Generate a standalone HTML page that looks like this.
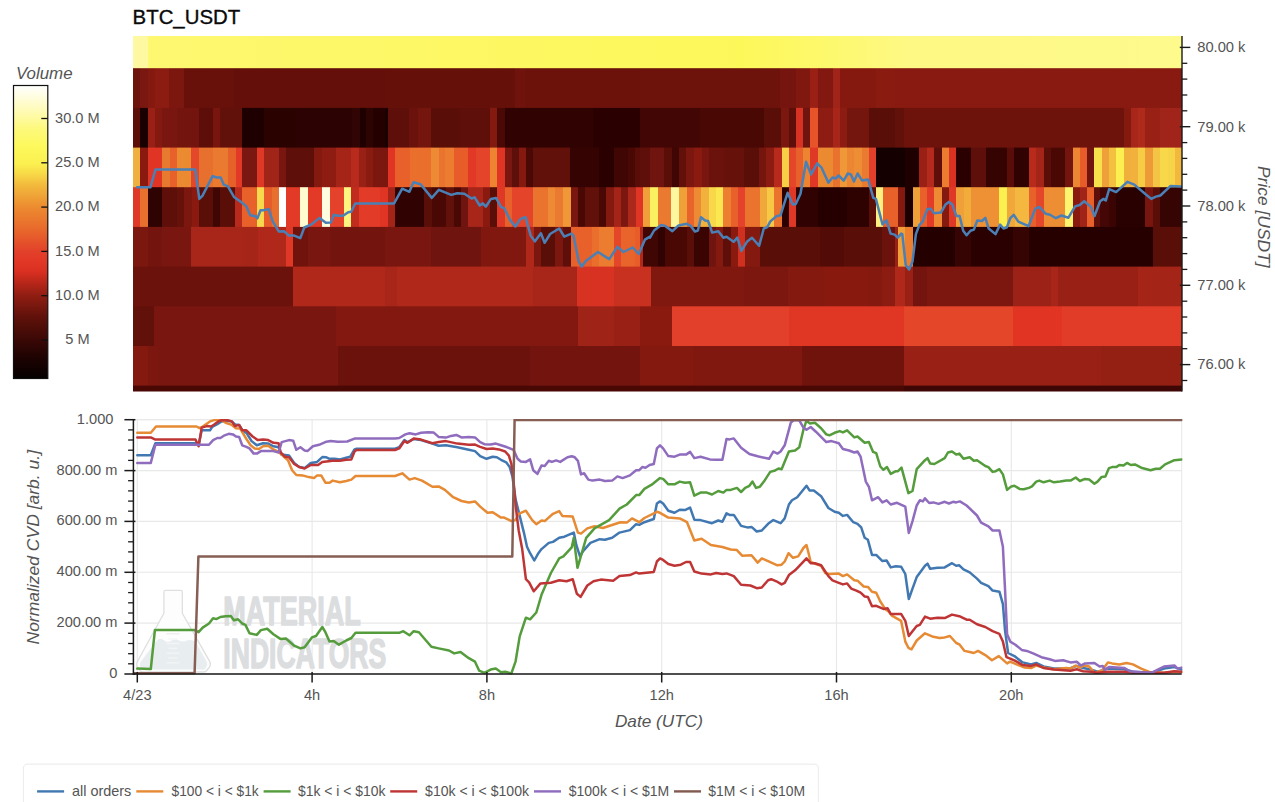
<!DOCTYPE html>
<html lang="en"><head><meta charset="utf-8"><title>BTC_USDT</title>
<style>
html,body{margin:0;padding:0;background:#fff;}
body{width:1275px;height:802px;overflow:hidden;font-family:"Liberation Sans", Arial, Helvetica, sans-serif;}
svg{display:block;}
text{font-family:"Liberation Sans", Arial, Helvetica, sans-serif;}
.t{font-size:14.6px;fill:#545454;}
.al{font-size:17px;font-style:italic;fill:#545454;}
.ln{fill:none;stroke-width:2.5;stroke-linejoin:round;stroke-linecap:round;}
</style></head><body>
<svg width="1275" height="802" viewBox="0 0 1275 802">
<defs>
<linearGradient id="cb" x1="0" y1="1" x2="0" y2="0">

<stop offset="0.0000" stop-color="#050000"/>
<stop offset="0.0721" stop-color="#1e0302"/>
<stop offset="0.1321" stop-color="#3a0805"/>
<stop offset="0.2072" stop-color="#5e110a"/>
<stop offset="0.2823" stop-color="#8f1d12"/>
<stop offset="0.3273" stop-color="#b82619"/>
<stop offset="0.3664" stop-color="#da3022"/>
<stop offset="0.4024" stop-color="#e23826"/>
<stop offset="0.4324" stop-color="#e2402a"/>
<stop offset="0.5075" stop-color="#e8682c"/>
<stop offset="0.5826" stop-color="#ec8a30"/>
<stop offset="0.6577" stop-color="#f2b83c"/>
<stop offset="0.7027" stop-color="#f8dc48"/>
<stop offset="0.7327" stop-color="#fbf050"/>
<stop offset="0.7928" stop-color="#fdf95c"/>
<stop offset="0.8529" stop-color="#fdf97c"/>
<stop offset="0.8829" stop-color="#fefa9a"/>
<stop offset="0.9429" stop-color="#fffcd0"/>
<stop offset="1.0000" stop-color="#ffffff"/>
</linearGradient>
<linearGradient id="gy" gradientUnits="userSpaceOnUse" x1="133" y1="0" x2="1182" y2="0">
<stop offset="0" stop-color="#fef9a2"/><stop offset="0.0138" stop-color="#fef9a0"/><stop offset="0.0150" stop-color="#fdf870"/>
<stop offset="0.2" stop-color="#fdf868"/><stop offset="0.45" stop-color="#fdf85e"/><stop offset="0.58" stop-color="#fdf85a"/>
<stop offset="0.66" stop-color="#fdf96c"/><stop offset="0.74" stop-color="#fef984"/><stop offset="1" stop-color="#fefa8c"/>
</linearGradient>
<clipPath id="cpb"><rect x="133.4" y="418.9" width="1049" height="256"/></clipPath>
<clipPath id="cpt"><rect x="133" y="36" width="1049" height="355.6"/></clipPath>
<filter id="bl" x="-1%" y="-3%" width="102%" height="106%" color-interpolation-filters="sRGB"><feGaussianBlur stdDeviation="0.75 0.6"/></filter>
</defs>
<rect width="1275" height="802" fill="#ffffff"/>

<text x="132.6" y="24.0" font-size="20.6" fill="#0a0a0a" stroke="#0a0a0a" stroke-width="0.35" textLength="107.6" lengthAdjust="spacingAndGlyphs">BTC_USDT</text>
<text class="al" x="16" y="79.2" textLength="56.5" lengthAdjust="spacingAndGlyphs">Volume</text>
<rect x="13.5" y="85.5" width="34.3" height="293" fill="url(#cb)" stroke="#111" stroke-width="1.2"/>
<line x1="41.3" y1="340.0" x2="47.8" y2="340.0" stroke="#111" stroke-width="1.3"/>
<text class="t" x="77.4" y="344.3" text-anchor="middle">5 M</text>
<line x1="41.3" y1="295.7" x2="47.8" y2="295.7" stroke="#111" stroke-width="1.3"/>
<text class="t" x="77.4" y="300.0" text-anchor="middle">10.0 M</text>
<line x1="41.3" y1="251.4" x2="47.8" y2="251.4" stroke="#111" stroke-width="1.3"/>
<text class="t" x="77.4" y="255.7" text-anchor="middle">15.0 M</text>
<line x1="41.3" y1="207.1" x2="47.8" y2="207.1" stroke="#111" stroke-width="1.3"/>
<text class="t" x="77.4" y="211.4" text-anchor="middle">20.0 M</text>
<line x1="41.3" y1="162.8" x2="47.8" y2="162.8" stroke="#111" stroke-width="1.3"/>
<text class="t" x="77.4" y="167.1" text-anchor="middle">25.0 M</text>
<line x1="41.3" y1="118.5" x2="47.8" y2="118.5" stroke="#111" stroke-width="1.3"/>
<text class="t" x="77.4" y="122.8" text-anchor="middle">30.0 M</text>
<g clip-path="url(#cpt)"><g id="heat" filter="url(#bl)">
<defs><linearGradient id="hr1" gradientUnits="userSpaceOnUse" x1="127.0" y1="0" x2="1188.0" y2="0"><stop offset="0.00000" stop-color="#6e120c"/><stop offset="0.01225" stop-color="#6e120c"/><stop offset="0.01225" stop-color="#7a1710"/><stop offset="0.01979" stop-color="#7a1710"/><stop offset="0.01979" stop-color="#84190f"/><stop offset="0.02639" stop-color="#84190f"/><stop offset="0.02639" stop-color="#8c1c12"/><stop offset="0.03959" stop-color="#8c1c12"/><stop offset="0.03959" stop-color="#7c1710"/><stop offset="0.05372" stop-color="#7c1710"/><stop offset="0.05372" stop-color="#68100a"/><stop offset="0.10085" stop-color="#68100a"/><stop offset="0.10085" stop-color="#640f09"/><stop offset="0.24317" stop-color="#640f09"/><stop offset="0.24317" stop-color="#66100a"/><stop offset="0.36569" stop-color="#66100a"/><stop offset="0.36569" stop-color="#70130c"/><stop offset="0.37512" stop-color="#70130c"/><stop offset="0.37512" stop-color="#6c120b"/><stop offset="0.48351" stop-color="#6c120b"/><stop offset="0.48351" stop-color="#6e120c"/><stop offset="0.61546" stop-color="#6e120c"/><stop offset="0.61546" stop-color="#761510"/><stop offset="0.63054" stop-color="#761510"/><stop offset="0.63054" stop-color="#80180f"/><stop offset="0.64373" stop-color="#80180f"/><stop offset="0.64373" stop-color="#9a2015"/><stop offset="0.65127" stop-color="#9a2015"/><stop offset="0.65127" stop-color="#82180f"/><stop offset="0.66541" stop-color="#82180f"/><stop offset="0.66541" stop-color="#a0241a"/><stop offset="0.67201" stop-color="#a0241a"/><stop offset="0.67201" stop-color="#86190f"/><stop offset="0.70594" stop-color="#86190f"/><stop offset="0.70594" stop-color="#8a1b11"/><stop offset="0.72385" stop-color="#8a1b11"/><stop offset="0.72385" stop-color="#881a11"/><stop offset="1.00000" stop-color="#881a11"/></linearGradient><linearGradient id="hr2" gradientUnits="userSpaceOnUse" x1="127.0" y1="0" x2="1188.0" y2="0"><stop offset="0.00000" stop-color="#5e0e08"/><stop offset="0.01225" stop-color="#5e0e08"/><stop offset="0.01225" stop-color="#1a0000"/><stop offset="0.01942" stop-color="#1a0000"/><stop offset="0.01942" stop-color="#9a2015"/><stop offset="0.02639" stop-color="#9a2015"/><stop offset="0.02639" stop-color="#84190f"/><stop offset="0.03299" stop-color="#84190f"/><stop offset="0.03299" stop-color="#7a1610"/><stop offset="0.04713" stop-color="#7a1610"/><stop offset="0.04713" stop-color="#74140e"/><stop offset="0.06786" stop-color="#74140e"/><stop offset="0.06786" stop-color="#5e0e08"/><stop offset="0.08106" stop-color="#5e0e08"/><stop offset="0.08106" stop-color="#78150e"/><stop offset="0.08765" stop-color="#78150e"/><stop offset="0.08765" stop-color="#62100a"/><stop offset="0.10839" stop-color="#62100a"/><stop offset="0.10839" stop-color="#1e0000"/><stop offset="0.12912" stop-color="#1e0000"/><stop offset="0.12912" stop-color="#2a0200"/><stop offset="0.15928" stop-color="#2a0200"/><stop offset="0.15928" stop-color="#2c0302"/><stop offset="0.21206" stop-color="#2c0302"/><stop offset="0.21206" stop-color="#300503"/><stop offset="0.21960" stop-color="#300503"/><stop offset="0.21960" stop-color="#1e0000"/><stop offset="0.22526" stop-color="#1e0000"/><stop offset="0.22526" stop-color="#2e0402"/><stop offset="0.23186" stop-color="#2e0402"/><stop offset="0.23186" stop-color="#240100"/><stop offset="0.24317" stop-color="#240100"/><stop offset="0.24317" stop-color="#1a0000"/><stop offset="0.24599" stop-color="#1a0000"/><stop offset="0.24599" stop-color="#5e0f09"/><stop offset="0.26579" stop-color="#5e0f09"/><stop offset="0.26579" stop-color="#6a120b"/><stop offset="0.27427" stop-color="#6a120b"/><stop offset="0.27427" stop-color="#74150e"/><stop offset="0.28652" stop-color="#74150e"/><stop offset="0.28652" stop-color="#5a0e08"/><stop offset="0.31385" stop-color="#5a0e08"/><stop offset="0.31385" stop-color="#5e0f09"/><stop offset="0.34213" stop-color="#5e0f09"/><stop offset="0.34213" stop-color="#84190f"/><stop offset="0.34873" stop-color="#84190f"/><stop offset="0.34873" stop-color="#4a0905"/><stop offset="0.35627" stop-color="#4a0905"/><stop offset="0.35627" stop-color="#300201"/><stop offset="0.43921" stop-color="#300201"/><stop offset="0.43921" stop-color="#2a0100"/><stop offset="0.48351" stop-color="#2a0100"/><stop offset="0.48351" stop-color="#420704"/><stop offset="0.54006" stop-color="#420704"/><stop offset="0.54006" stop-color="#4a0805"/><stop offset="0.60038" stop-color="#4a0805"/><stop offset="0.60038" stop-color="#5a0e08"/><stop offset="0.61640" stop-color="#5a0e08"/><stop offset="0.61640" stop-color="#7c1710"/><stop offset="0.62394" stop-color="#7c1710"/><stop offset="0.62394" stop-color="#5e0f09"/><stop offset="0.63054" stop-color="#5e0f09"/><stop offset="0.63054" stop-color="#d83222"/><stop offset="0.63713" stop-color="#d83222"/><stop offset="0.63713" stop-color="#701410"/><stop offset="0.64373" stop-color="#701410"/><stop offset="0.64373" stop-color="#e8542a"/><stop offset="0.65127" stop-color="#e8542a"/><stop offset="0.65127" stop-color="#8e1c12"/><stop offset="0.66541" stop-color="#8e1c12"/><stop offset="0.66541" stop-color="#a82619"/><stop offset="0.67201" stop-color="#a82619"/><stop offset="0.67201" stop-color="#8c1b11"/><stop offset="0.67861" stop-color="#8c1b11"/><stop offset="0.67861" stop-color="#74150e"/><stop offset="0.69934" stop-color="#74150e"/><stop offset="0.69934" stop-color="#5a0e08"/><stop offset="0.72385" stop-color="#5a0e08"/><stop offset="0.72385" stop-color="#62100a"/><stop offset="0.73233" stop-color="#62100a"/><stop offset="0.73233" stop-color="#6e130c"/><stop offset="0.91706" stop-color="#6e130c"/><stop offset="0.91706" stop-color="#6e130c"/><stop offset="0.93968" stop-color="#6e130c"/><stop offset="0.93968" stop-color="#84190f"/><stop offset="0.94622" stop-color="#84190f"/><stop offset="0.94622" stop-color="#a82619"/><stop offset="0.95280" stop-color="#a82619"/><stop offset="0.95280" stop-color="#b02a1c"/><stop offset="0.95939" stop-color="#b02a1c"/><stop offset="0.95939" stop-color="#982014"/><stop offset="0.97350" stop-color="#982014"/><stop offset="0.97350" stop-color="#a0241a"/><stop offset="1.00000" stop-color="#a0241a"/></linearGradient><linearGradient id="hr3" gradientUnits="userSpaceOnUse" x1="127.0" y1="0" x2="1188.0" y2="0"><stop offset="0.00000" stop-color="#f0b040"/><stop offset="0.01225" stop-color="#f0b040"/><stop offset="0.01225" stop-color="#8a1a10"/><stop offset="0.01979" stop-color="#8a1a10"/><stop offset="0.01979" stop-color="#e03424"/><stop offset="0.03299" stop-color="#e03424"/><stop offset="0.03299" stop-color="#e87a30"/><stop offset="0.04053" stop-color="#e87a30"/><stop offset="0.04053" stop-color="#e8602a"/><stop offset="0.04713" stop-color="#e8602a"/><stop offset="0.04713" stop-color="#ec8a32"/><stop offset="0.06032" stop-color="#ec8a32"/><stop offset="0.06032" stop-color="#e4482a"/><stop offset="0.06786" stop-color="#e4482a"/><stop offset="0.06786" stop-color="#e8702e"/><stop offset="0.08106" stop-color="#e8702e"/><stop offset="0.08106" stop-color="#ea7a30"/><stop offset="0.09519" stop-color="#ea7a30"/><stop offset="0.09519" stop-color="#e6602a"/><stop offset="0.10273" stop-color="#e6602a"/><stop offset="0.10273" stop-color="#e23a26"/><stop offset="0.10839" stop-color="#e23a26"/><stop offset="0.10839" stop-color="#7a1710"/><stop offset="0.12253" stop-color="#7a1710"/><stop offset="0.12253" stop-color="#e03826"/><stop offset="0.12950" stop-color="#e03826"/><stop offset="0.12950" stop-color="#a02418"/><stop offset="0.14326" stop-color="#a02418"/><stop offset="0.14326" stop-color="#7a1610"/><stop offset="0.14986" stop-color="#7a1610"/><stop offset="0.14986" stop-color="#5e0f09"/><stop offset="0.17625" stop-color="#5e0f09"/><stop offset="0.17625" stop-color="#84190f"/><stop offset="0.18379" stop-color="#84190f"/><stop offset="0.18379" stop-color="#8e1c12"/><stop offset="0.19698" stop-color="#8e1c12"/><stop offset="0.19698" stop-color="#a42418"/><stop offset="0.21112" stop-color="#a42418"/><stop offset="0.21112" stop-color="#b82a1c"/><stop offset="0.21866" stop-color="#b82a1c"/><stop offset="0.21866" stop-color="#982014"/><stop offset="0.22526" stop-color="#982014"/><stop offset="0.22526" stop-color="#8a1b11"/><stop offset="0.23186" stop-color="#8a1b11"/><stop offset="0.23186" stop-color="#7c1710"/><stop offset="0.24317" stop-color="#7c1710"/><stop offset="0.24317" stop-color="#7c1710"/><stop offset="0.24599" stop-color="#7c1710"/><stop offset="0.24599" stop-color="#e03424"/><stop offset="0.25259" stop-color="#e03424"/><stop offset="0.25259" stop-color="#e8602a"/><stop offset="0.26673" stop-color="#e8602a"/><stop offset="0.26673" stop-color="#ea6e2c"/><stop offset="0.28652" stop-color="#ea6e2c"/><stop offset="0.28652" stop-color="#ee8a34"/><stop offset="0.29406" stop-color="#ee8a34"/><stop offset="0.29406" stop-color="#ea742e"/><stop offset="0.29972" stop-color="#ea742e"/><stop offset="0.29972" stop-color="#ec7c30"/><stop offset="0.30820" stop-color="#ec7c30"/><stop offset="0.30820" stop-color="#e85c2a"/><stop offset="0.32139" stop-color="#e85c2a"/><stop offset="0.32139" stop-color="#e23826"/><stop offset="0.32893" stop-color="#e23826"/><stop offset="0.32893" stop-color="#e4442a"/><stop offset="0.34213" stop-color="#e4442a"/><stop offset="0.34213" stop-color="#ec8432"/><stop offset="0.34873" stop-color="#ec8432"/><stop offset="0.34873" stop-color="#e03424"/><stop offset="0.35589" stop-color="#e03424"/><stop offset="0.35589" stop-color="#7a1610"/><stop offset="0.36287" stop-color="#7a1610"/><stop offset="0.36287" stop-color="#5e0f09"/><stop offset="0.36946" stop-color="#5e0f09"/><stop offset="0.36946" stop-color="#84190f"/><stop offset="0.37606" stop-color="#84190f"/><stop offset="0.37606" stop-color="#4a0905"/><stop offset="0.38266" stop-color="#4a0905"/><stop offset="0.38266" stop-color="#62100a"/><stop offset="0.41753" stop-color="#62100a"/><stop offset="0.41753" stop-color="#340302"/><stop offset="0.44486" stop-color="#340302"/><stop offset="0.44486" stop-color="#2a0100"/><stop offset="0.45900" stop-color="#2a0100"/><stop offset="0.45900" stop-color="#400604"/><stop offset="0.47220" stop-color="#400604"/><stop offset="0.47220" stop-color="#4a0805"/><stop offset="0.47879" stop-color="#4a0805"/><stop offset="0.47879" stop-color="#5a0d08"/><stop offset="0.48351" stop-color="#5a0d08"/><stop offset="0.48351" stop-color="#5e0f09"/><stop offset="0.49293" stop-color="#5e0f09"/><stop offset="0.49293" stop-color="#701410"/><stop offset="0.50613" stop-color="#701410"/><stop offset="0.50613" stop-color="#5a0e08"/><stop offset="0.51367" stop-color="#5a0e08"/><stop offset="0.51367" stop-color="#400604"/><stop offset="0.52026" stop-color="#400604"/><stop offset="0.52026" stop-color="#62100a"/><stop offset="0.52686" stop-color="#62100a"/><stop offset="0.52686" stop-color="#7c1710"/><stop offset="0.53440" stop-color="#7c1710"/><stop offset="0.53440" stop-color="#8a1a10"/><stop offset="0.54194" stop-color="#8a1a10"/><stop offset="0.54194" stop-color="#7a1610"/><stop offset="0.54854" stop-color="#7a1610"/><stop offset="0.54854" stop-color="#6a120b"/><stop offset="0.56268" stop-color="#6a120b"/><stop offset="0.56268" stop-color="#66110a"/><stop offset="0.58153" stop-color="#66110a"/><stop offset="0.58153" stop-color="#5a0e08"/><stop offset="0.59566" stop-color="#5a0e08"/><stop offset="0.59566" stop-color="#74150e"/><stop offset="0.60226" stop-color="#74150e"/><stop offset="0.60226" stop-color="#8c1b11"/><stop offset="0.60980" stop-color="#8c1b11"/><stop offset="0.60980" stop-color="#b82a1c"/><stop offset="0.61697" stop-color="#b82a1c"/><stop offset="0.61697" stop-color="#f8d048"/><stop offset="0.62394" stop-color="#f8d048"/><stop offset="0.62394" stop-color="#e4462a"/><stop offset="0.63054" stop-color="#e4462a"/><stop offset="0.63054" stop-color="#e8602a"/><stop offset="0.63713" stop-color="#e8602a"/><stop offset="0.63713" stop-color="#ec8432"/><stop offset="0.64373" stop-color="#ec8432"/><stop offset="0.64373" stop-color="#e03826"/><stop offset="0.65127" stop-color="#e03826"/><stop offset="0.65127" stop-color="#ec8a32"/><stop offset="0.66541" stop-color="#ec8a32"/><stop offset="0.66541" stop-color="#e8722e"/><stop offset="0.67201" stop-color="#e8722e"/><stop offset="0.67201" stop-color="#f09838"/><stop offset="0.67861" stop-color="#f09838"/><stop offset="0.67861" stop-color="#ec8632"/><stop offset="0.68520" stop-color="#ec8632"/><stop offset="0.68520" stop-color="#ee8e34"/><stop offset="0.69274" stop-color="#ee8e34"/><stop offset="0.69274" stop-color="#ea7a30"/><stop offset="0.69934" stop-color="#ea7a30"/><stop offset="0.69934" stop-color="#e2402a"/><stop offset="0.70594" stop-color="#e2402a"/><stop offset="0.70594" stop-color="#140000"/><stop offset="0.72385" stop-color="#140000"/><stop offset="0.72385" stop-color="#140000"/><stop offset="0.73327" stop-color="#140000"/><stop offset="0.73327" stop-color="#1e0000"/><stop offset="0.74647" stop-color="#1e0000"/><stop offset="0.74647" stop-color="#9a2015"/><stop offset="0.75401" stop-color="#9a2015"/><stop offset="0.75401" stop-color="#b42a1c"/><stop offset="0.76060" stop-color="#b42a1c"/><stop offset="0.76060" stop-color="#5e0f09"/><stop offset="0.76814" stop-color="#5e0f09"/><stop offset="0.76814" stop-color="#ec7c30"/><stop offset="0.77474" stop-color="#ec7c30"/><stop offset="0.77474" stop-color="#d83222"/><stop offset="0.78134" stop-color="#d83222"/><stop offset="0.78134" stop-color="#2a0100"/><stop offset="0.79548" stop-color="#2a0100"/><stop offset="0.79548" stop-color="#5e0f09"/><stop offset="0.80961" stop-color="#5e0f09"/><stop offset="0.80961" stop-color="#340302"/><stop offset="0.82941" stop-color="#340302"/><stop offset="0.82941" stop-color="#5a0d08"/><stop offset="0.83600" stop-color="#5a0d08"/><stop offset="0.83600" stop-color="#300201"/><stop offset="0.84976" stop-color="#300201"/><stop offset="0.84976" stop-color="#b82a1c"/><stop offset="0.85674" stop-color="#b82a1c"/><stop offset="0.85674" stop-color="#a42418"/><stop offset="0.86428" stop-color="#a42418"/><stop offset="0.86428" stop-color="#5a0e08"/><stop offset="0.87088" stop-color="#5a0e08"/><stop offset="0.87088" stop-color="#4a0805"/><stop offset="0.88407" stop-color="#4a0805"/><stop offset="0.88407" stop-color="#74140e"/><stop offset="0.89161" stop-color="#74140e"/><stop offset="0.89161" stop-color="#ec8632"/><stop offset="0.89821" stop-color="#ec8632"/><stop offset="0.89821" stop-color="#e85c2a"/><stop offset="0.90481" stop-color="#e85c2a"/><stop offset="0.90481" stop-color="#701410"/><stop offset="0.91159" stop-color="#701410"/><stop offset="0.91159" stop-color="#f8e04c"/><stop offset="0.91924" stop-color="#f8e04c"/><stop offset="0.91924" stop-color="#f0a038"/><stop offset="0.92549" stop-color="#f0a038"/><stop offset="0.92549" stop-color="#f4c040"/><stop offset="0.93202" stop-color="#f4c040"/><stop offset="0.93202" stop-color="#fbf050"/><stop offset="0.93990" stop-color="#fbf050"/><stop offset="0.93990" stop-color="#f0b03c"/><stop offset="0.94663" stop-color="#f0b03c"/><stop offset="0.94663" stop-color="#f2b03c"/><stop offset="0.95287" stop-color="#f2b03c"/><stop offset="0.95287" stop-color="#f6cc44"/><stop offset="0.95960" stop-color="#f6cc44"/><stop offset="0.95960" stop-color="#ee9a36"/><stop offset="0.96681" stop-color="#ee9a36"/><stop offset="0.96681" stop-color="#f4c444"/><stop offset="0.97401" stop-color="#f4c444"/><stop offset="0.97401" stop-color="#f8d848"/><stop offset="0.98122" stop-color="#f8d848"/><stop offset="0.98122" stop-color="#f6d447"/><stop offset="0.98795" stop-color="#f6d447"/><stop offset="0.98795" stop-color="#f2b83e"/><stop offset="1.00000" stop-color="#f2b83e"/></linearGradient><linearGradient id="hr4" gradientUnits="userSpaceOnUse" x1="127.0" y1="0" x2="1188.0" y2="0"><stop offset="0.00000" stop-color="#e03826"/><stop offset="0.01225" stop-color="#e03826"/><stop offset="0.01225" stop-color="#e8702e"/><stop offset="0.01979" stop-color="#e8702e"/><stop offset="0.01979" stop-color="#2e0302"/><stop offset="0.03299" stop-color="#2e0302"/><stop offset="0.03299" stop-color="#5e0f09"/><stop offset="0.04713" stop-color="#5e0f09"/><stop offset="0.04713" stop-color="#66110a"/><stop offset="0.05372" stop-color="#66110a"/><stop offset="0.05372" stop-color="#7c1710"/><stop offset="0.06126" stop-color="#7c1710"/><stop offset="0.06126" stop-color="#8a1a10"/><stop offset="0.06786" stop-color="#8a1a10"/><stop offset="0.06786" stop-color="#5a0e08"/><stop offset="0.08106" stop-color="#5a0e08"/><stop offset="0.08106" stop-color="#400604"/><stop offset="0.08765" stop-color="#400604"/><stop offset="0.08765" stop-color="#5a0e08"/><stop offset="0.10179" stop-color="#5a0e08"/><stop offset="0.10179" stop-color="#b82a1c"/><stop offset="0.10839" stop-color="#b82a1c"/><stop offset="0.10839" stop-color="#e8602a"/><stop offset="0.12253" stop-color="#e8602a"/><stop offset="0.12253" stop-color="#f8d84c"/><stop offset="0.12912" stop-color="#f8d84c"/><stop offset="0.12912" stop-color="#e85c2a"/><stop offset="0.13666" stop-color="#e85c2a"/><stop offset="0.13666" stop-color="#e8702e"/><stop offset="0.14326" stop-color="#e8702e"/><stop offset="0.14326" stop-color="#ffffff"/><stop offset="0.14986" stop-color="#ffffff"/><stop offset="0.14986" stop-color="#e23a26"/><stop offset="0.16305" stop-color="#e23a26"/><stop offset="0.16305" stop-color="#fffcd0"/><stop offset="0.17059" stop-color="#fffcd0"/><stop offset="0.17059" stop-color="#e23a26"/><stop offset="0.18379" stop-color="#e23a26"/><stop offset="0.18379" stop-color="#fffde0"/><stop offset="0.19133" stop-color="#fffde0"/><stop offset="0.19133" stop-color="#e4422a"/><stop offset="0.20452" stop-color="#e4422a"/><stop offset="0.20452" stop-color="#fdf580"/><stop offset="0.21112" stop-color="#fdf580"/><stop offset="0.21112" stop-color="#c02c1e"/><stop offset="0.21866" stop-color="#c02c1e"/><stop offset="0.21866" stop-color="#e23c28"/><stop offset="0.23845" stop-color="#e23c28"/><stop offset="0.23845" stop-color="#e03424"/><stop offset="0.24317" stop-color="#e03424"/><stop offset="0.24317" stop-color="#e03424"/><stop offset="0.24599" stop-color="#e03424"/><stop offset="0.24599" stop-color="#a42418"/><stop offset="0.25259" stop-color="#a42418"/><stop offset="0.25259" stop-color="#300201"/><stop offset="0.27992" stop-color="#300201"/><stop offset="0.27992" stop-color="#5a0e08"/><stop offset="0.28746" stop-color="#5a0e08"/><stop offset="0.28746" stop-color="#4a0805"/><stop offset="0.30066" stop-color="#4a0805"/><stop offset="0.30066" stop-color="#62100a"/><stop offset="0.30820" stop-color="#62100a"/><stop offset="0.30820" stop-color="#4a0805"/><stop offset="0.31480" stop-color="#4a0805"/><stop offset="0.31480" stop-color="#701410"/><stop offset="0.32139" stop-color="#701410"/><stop offset="0.32139" stop-color="#a82619"/><stop offset="0.33553" stop-color="#a82619"/><stop offset="0.33553" stop-color="#8a1a10"/><stop offset="0.34213" stop-color="#8a1a10"/><stop offset="0.34213" stop-color="#5a0e08"/><stop offset="0.34873" stop-color="#5a0e08"/><stop offset="0.34873" stop-color="#e03826"/><stop offset="0.35589" stop-color="#e03826"/><stop offset="0.35589" stop-color="#e8602a"/><stop offset="0.36287" stop-color="#e8602a"/><stop offset="0.36287" stop-color="#e4442a"/><stop offset="0.38266" stop-color="#e4442a"/><stop offset="0.38266" stop-color="#ea742e"/><stop offset="0.39680" stop-color="#ea742e"/><stop offset="0.39680" stop-color="#ee8a34"/><stop offset="0.40339" stop-color="#ee8a34"/><stop offset="0.40339" stop-color="#ea7a30"/><stop offset="0.41093" stop-color="#ea7a30"/><stop offset="0.41093" stop-color="#f09838"/><stop offset="0.41810" stop-color="#f09838"/><stop offset="0.41810" stop-color="#7a1610"/><stop offset="0.42507" stop-color="#7a1610"/><stop offset="0.42507" stop-color="#4a0805"/><stop offset="0.43167" stop-color="#4a0805"/><stop offset="0.43167" stop-color="#62100a"/><stop offset="0.44486" stop-color="#62100a"/><stop offset="0.44486" stop-color="#4a0805"/><stop offset="0.45146" stop-color="#4a0805"/><stop offset="0.45146" stop-color="#84190f"/><stop offset="0.45900" stop-color="#84190f"/><stop offset="0.45900" stop-color="#a42418"/><stop offset="0.46560" stop-color="#a42418"/><stop offset="0.46560" stop-color="#7c1710"/><stop offset="0.47220" stop-color="#7c1710"/><stop offset="0.47220" stop-color="#ac281a"/><stop offset="0.47974" stop-color="#ac281a"/><stop offset="0.47974" stop-color="#e03424"/><stop offset="0.48351" stop-color="#e03424"/><stop offset="0.48351" stop-color="#e03424"/><stop offset="0.48633" stop-color="#e03424"/><stop offset="0.48633" stop-color="#f0a038"/><stop offset="0.49293" stop-color="#f0a038"/><stop offset="0.49293" stop-color="#fbf060"/><stop offset="0.50047" stop-color="#fbf060"/><stop offset="0.50047" stop-color="#ea7a30"/><stop offset="0.51272" stop-color="#ea7a30"/><stop offset="0.51272" stop-color="#fdf8a0"/><stop offset="0.52026" stop-color="#fdf8a0"/><stop offset="0.52026" stop-color="#f0a038"/><stop offset="0.52780" stop-color="#f0a038"/><stop offset="0.52780" stop-color="#e8642a"/><stop offset="0.53440" stop-color="#e8642a"/><stop offset="0.53440" stop-color="#ee8a34"/><stop offset="0.54100" stop-color="#ee8a34"/><stop offset="0.54100" stop-color="#f2b03c"/><stop offset="0.54854" stop-color="#f2b03c"/><stop offset="0.54854" stop-color="#f8d848"/><stop offset="0.55514" stop-color="#f8d848"/><stop offset="0.55514" stop-color="#fbe850"/><stop offset="0.56173" stop-color="#fbe850"/><stop offset="0.56173" stop-color="#ec8030"/><stop offset="0.56927" stop-color="#ec8030"/><stop offset="0.56927" stop-color="#e8602a"/><stop offset="0.57587" stop-color="#e8602a"/><stop offset="0.57587" stop-color="#e4422a"/><stop offset="0.58247" stop-color="#e4422a"/><stop offset="0.58247" stop-color="#ea742e"/><stop offset="0.59623" stop-color="#ea742e"/><stop offset="0.59623" stop-color="#f0a83a"/><stop offset="0.60320" stop-color="#f0a83a"/><stop offset="0.60320" stop-color="#f6c844"/><stop offset="0.60980" stop-color="#f6c844"/><stop offset="0.60980" stop-color="#ea742e"/><stop offset="0.61697" stop-color="#ea742e"/><stop offset="0.61697" stop-color="#2a0100"/><stop offset="0.62394" stop-color="#2a0100"/><stop offset="0.62394" stop-color="#e03826"/><stop offset="0.63054" stop-color="#e03826"/><stop offset="0.63054" stop-color="#300201"/><stop offset="0.65127" stop-color="#300201"/><stop offset="0.65127" stop-color="#260000"/><stop offset="0.67861" stop-color="#260000"/><stop offset="0.67861" stop-color="#2e0201"/><stop offset="0.69934" stop-color="#2e0201"/><stop offset="0.69934" stop-color="#5a0e08"/><stop offset="0.70594" stop-color="#5a0e08"/><stop offset="0.70594" stop-color="#fdf080"/><stop offset="0.71254" stop-color="#fdf080"/><stop offset="0.71254" stop-color="#e8602a"/><stop offset="0.72385" stop-color="#e8602a"/><stop offset="0.72385" stop-color="#e8602a"/><stop offset="0.72667" stop-color="#e8602a"/><stop offset="0.72667" stop-color="#84190f"/><stop offset="0.73327" stop-color="#84190f"/><stop offset="0.73327" stop-color="#1a0000"/><stop offset="0.74081" stop-color="#1a0000"/><stop offset="0.74081" stop-color="#f0a038"/><stop offset="0.74741" stop-color="#f0a038"/><stop offset="0.74741" stop-color="#e8602a"/><stop offset="0.75401" stop-color="#e8602a"/><stop offset="0.75401" stop-color="#e23c28"/><stop offset="0.76060" stop-color="#e23c28"/><stop offset="0.76060" stop-color="#ee8a34"/><stop offset="0.76814" stop-color="#ee8a34"/><stop offset="0.76814" stop-color="#84190f"/><stop offset="0.77474" stop-color="#84190f"/><stop offset="0.77474" stop-color="#e03826"/><stop offset="0.78134" stop-color="#e03826"/><stop offset="0.78134" stop-color="#f0a038"/><stop offset="0.78888" stop-color="#f0a038"/><stop offset="0.78888" stop-color="#f2ac3a"/><stop offset="0.79548" stop-color="#f2ac3a"/><stop offset="0.79548" stop-color="#ee9034"/><stop offset="0.82187" stop-color="#ee9034"/><stop offset="0.82187" stop-color="#fbf050"/><stop offset="0.82941" stop-color="#fbf050"/><stop offset="0.82941" stop-color="#f0a83a"/><stop offset="0.83657" stop-color="#f0a83a"/><stop offset="0.83657" stop-color="#f4b840"/><stop offset="0.84976" stop-color="#f4b840"/><stop offset="0.84976" stop-color="#e8602a"/><stop offset="0.85674" stop-color="#e8602a"/><stop offset="0.85674" stop-color="#e4462a"/><stop offset="0.86428" stop-color="#e4462a"/><stop offset="0.86428" stop-color="#ee8e34"/><stop offset="0.88407" stop-color="#ee8e34"/><stop offset="0.88407" stop-color="#fdf470"/><stop offset="0.89161" stop-color="#fdf470"/><stop offset="0.89161" stop-color="#8a1a10"/><stop offset="0.89821" stop-color="#8a1a10"/><stop offset="0.89821" stop-color="#a02418"/><stop offset="0.90481" stop-color="#a02418"/><stop offset="0.90481" stop-color="#e8602a"/><stop offset="0.91140" stop-color="#e8602a"/><stop offset="0.91140" stop-color="#5e0f09"/><stop offset="0.91706" stop-color="#5e0f09"/><stop offset="0.91706" stop-color="#440705"/><stop offset="0.92553" stop-color="#440705"/><stop offset="0.92553" stop-color="#3a0403"/><stop offset="0.93211" stop-color="#3a0403"/><stop offset="0.93211" stop-color="#280100"/><stop offset="0.95939" stop-color="#280100"/><stop offset="0.95939" stop-color="#78150e"/><stop offset="0.96691" stop-color="#78150e"/><stop offset="0.96691" stop-color="#5a0e08"/><stop offset="0.97350" stop-color="#5a0e08"/><stop offset="0.97350" stop-color="#360403"/><stop offset="1.00000" stop-color="#360403"/></linearGradient><linearGradient id="hr5" gradientUnits="userSpaceOnUse" x1="127.0" y1="0" x2="1188.0" y2="0"><stop offset="0.00000" stop-color="#7c1710"/><stop offset="0.01979" stop-color="#7c1710"/><stop offset="0.01979" stop-color="#74140e"/><stop offset="0.03299" stop-color="#74140e"/><stop offset="0.03299" stop-color="#78160f"/><stop offset="0.06032" stop-color="#78160f"/><stop offset="0.06032" stop-color="#a82619"/><stop offset="0.10839" stop-color="#a82619"/><stop offset="0.10839" stop-color="#a62519"/><stop offset="0.12347" stop-color="#a62519"/><stop offset="0.12347" stop-color="#b0281a"/><stop offset="0.14986" stop-color="#b0281a"/><stop offset="0.14986" stop-color="#e03826"/><stop offset="0.15646" stop-color="#e03826"/><stop offset="0.15646" stop-color="#70130d"/><stop offset="0.17059" stop-color="#70130d"/><stop offset="0.17059" stop-color="#78160f"/><stop offset="0.19133" stop-color="#78160f"/><stop offset="0.19133" stop-color="#74140e"/><stop offset="0.24317" stop-color="#74140e"/><stop offset="0.24317" stop-color="#78160f"/><stop offset="0.28652" stop-color="#78160f"/><stop offset="0.28652" stop-color="#701410"/><stop offset="0.33365" stop-color="#701410"/><stop offset="0.33365" stop-color="#80180f"/><stop offset="0.37606" stop-color="#80180f"/><stop offset="0.37606" stop-color="#b0281a"/><stop offset="0.38360" stop-color="#b0281a"/><stop offset="0.38360" stop-color="#7c1710"/><stop offset="0.39020" stop-color="#7c1710"/><stop offset="0.39020" stop-color="#5a0e08"/><stop offset="0.40339" stop-color="#5a0e08"/><stop offset="0.40339" stop-color="#7c1710"/><stop offset="0.41093" stop-color="#7c1710"/><stop offset="0.41093" stop-color="#5e0f09"/><stop offset="0.41810" stop-color="#5e0f09"/><stop offset="0.41810" stop-color="#e8602a"/><stop offset="0.43827" stop-color="#e8602a"/><stop offset="0.43827" stop-color="#ea6e2c"/><stop offset="0.44486" stop-color="#ea6e2c"/><stop offset="0.44486" stop-color="#ec7c30"/><stop offset="0.45900" stop-color="#ec7c30"/><stop offset="0.45900" stop-color="#e4462a"/><stop offset="0.46560" stop-color="#e4462a"/><stop offset="0.46560" stop-color="#e8642a"/><stop offset="0.47879" stop-color="#e8642a"/><stop offset="0.47879" stop-color="#e85c2a"/><stop offset="0.48351" stop-color="#e85c2a"/><stop offset="0.48351" stop-color="#b0281a"/><stop offset="0.48633" stop-color="#b0281a"/><stop offset="0.48633" stop-color="#400604"/><stop offset="0.50047" stop-color="#400604"/><stop offset="0.50047" stop-color="#300201"/><stop offset="0.50707" stop-color="#300201"/><stop offset="0.50707" stop-color="#4a0805"/><stop offset="0.52780" stop-color="#4a0805"/><stop offset="0.52780" stop-color="#5a0e08"/><stop offset="0.53440" stop-color="#5a0e08"/><stop offset="0.53440" stop-color="#3a0403"/><stop offset="0.54854" stop-color="#3a0403"/><stop offset="0.54854" stop-color="#701410"/><stop offset="0.55514" stop-color="#701410"/><stop offset="0.55514" stop-color="#84190f"/><stop offset="0.56173" stop-color="#84190f"/><stop offset="0.56173" stop-color="#5e0f09"/><stop offset="0.56927" stop-color="#5e0f09"/><stop offset="0.56927" stop-color="#8a1a10"/><stop offset="0.57587" stop-color="#8a1a10"/><stop offset="0.57587" stop-color="#d03020"/><stop offset="0.58247" stop-color="#d03020"/><stop offset="0.58247" stop-color="#84190f"/><stop offset="0.59623" stop-color="#84190f"/><stop offset="0.59623" stop-color="#5a0e08"/><stop offset="0.65316" stop-color="#5a0e08"/><stop offset="0.65316" stop-color="#520b06"/><stop offset="0.67578" stop-color="#520b06"/><stop offset="0.67578" stop-color="#5a0e08"/><stop offset="0.71159" stop-color="#5a0e08"/><stop offset="0.71159" stop-color="#6a120b"/><stop offset="0.72385" stop-color="#6a120b"/><stop offset="0.72385" stop-color="#982014"/><stop offset="0.72667" stop-color="#982014"/><stop offset="0.72667" stop-color="#f0a038"/><stop offset="0.73327" stop-color="#f0a038"/><stop offset="0.73327" stop-color="#ec8030"/><stop offset="0.74081" stop-color="#ec8030"/><stop offset="0.74081" stop-color="#240000"/><stop offset="0.78040" stop-color="#240000"/><stop offset="0.78040" stop-color="#360403"/><stop offset="0.79548" stop-color="#360403"/><stop offset="0.79548" stop-color="#2a0100"/><stop offset="0.83506" stop-color="#2a0100"/><stop offset="0.83506" stop-color="#360403"/><stop offset="0.85014" stop-color="#360403"/><stop offset="0.85014" stop-color="#260000"/><stop offset="0.96701" stop-color="#260000"/><stop offset="0.96701" stop-color="#5a0e08"/><stop offset="1.00000" stop-color="#5a0e08"/></linearGradient><linearGradient id="hr6" gradientUnits="userSpaceOnUse" x1="127.0" y1="0" x2="1188.0" y2="0"><stop offset="0.00000" stop-color="#6a120b"/><stop offset="0.15646" stop-color="#6a120b"/><stop offset="0.15646" stop-color="#b0281a"/><stop offset="0.24317" stop-color="#b0281a"/><stop offset="0.24317" stop-color="#a82619"/><stop offset="0.25448" stop-color="#a82619"/><stop offset="0.25448" stop-color="#b0281a"/><stop offset="0.38266" stop-color="#b0281a"/><stop offset="0.38266" stop-color="#a82619"/><stop offset="0.42413" stop-color="#a82619"/><stop offset="0.42413" stop-color="#d83222"/><stop offset="0.45900" stop-color="#d83222"/><stop offset="0.45900" stop-color="#c83020"/><stop offset="0.48351" stop-color="#c83020"/><stop offset="0.48351" stop-color="#c83020"/><stop offset="0.49387" stop-color="#c83020"/><stop offset="0.49387" stop-color="#80180f"/><stop offset="0.58153" stop-color="#80180f"/><stop offset="0.58153" stop-color="#7c1710"/><stop offset="0.62300" stop-color="#7c1710"/><stop offset="0.62300" stop-color="#84190f"/><stop offset="0.65693" stop-color="#84190f"/><stop offset="0.65693" stop-color="#88190f"/><stop offset="0.69840" stop-color="#88190f"/><stop offset="0.69840" stop-color="#84190f"/><stop offset="0.71159" stop-color="#84190f"/><stop offset="0.71159" stop-color="#8c1b11"/><stop offset="0.72385" stop-color="#8c1b11"/><stop offset="0.72385" stop-color="#b0281a"/><stop offset="0.73327" stop-color="#b0281a"/><stop offset="0.73327" stop-color="#982014"/><stop offset="0.74081" stop-color="#982014"/><stop offset="0.74081" stop-color="#74140e"/><stop offset="0.75401" stop-color="#74140e"/><stop offset="0.75401" stop-color="#7c1710"/><stop offset="0.83506" stop-color="#7c1710"/><stop offset="0.83506" stop-color="#9c2116"/><stop offset="0.87088" stop-color="#9c2116"/><stop offset="0.87088" stop-color="#a82619"/><stop offset="0.87747" stop-color="#a82619"/><stop offset="0.87747" stop-color="#982014"/><stop offset="0.95287" stop-color="#982014"/><stop offset="0.95287" stop-color="#a42418"/><stop offset="1.00000" stop-color="#a42418"/></linearGradient><linearGradient id="hr7" gradientUnits="userSpaceOnUse" x1="127.0" y1="0" x2="1188.0" y2="0"><stop offset="0.00000" stop-color="#62100a"/><stop offset="0.02545" stop-color="#62100a"/><stop offset="0.02545" stop-color="#7a1610"/><stop offset="0.19698" stop-color="#7a1610"/><stop offset="0.19698" stop-color="#82180f"/><stop offset="0.42507" stop-color="#82180f"/><stop offset="0.42507" stop-color="#a02318"/><stop offset="0.45900" stop-color="#a02318"/><stop offset="0.45900" stop-color="#982014"/><stop offset="0.48351" stop-color="#982014"/><stop offset="0.48351" stop-color="#8a1a10"/><stop offset="0.51331" stop-color="#8a1a10"/><stop offset="0.51331" stop-color="#e2402a"/><stop offset="0.62424" stop-color="#e2402a"/><stop offset="0.62424" stop-color="#e03624"/><stop offset="0.73186" stop-color="#e03624"/><stop offset="0.73186" stop-color="#e4462a"/><stop offset="0.83534" stop-color="#e4462a"/><stop offset="0.83534" stop-color="#e23422"/><stop offset="0.88087" stop-color="#e23422"/><stop offset="0.88087" stop-color="#e03c28"/><stop offset="1.00000" stop-color="#e03c28"/></linearGradient><linearGradient id="hr8" gradientUnits="userSpaceOnUse" x1="127.0" y1="0" x2="1188.0" y2="0"><stop offset="0.00000" stop-color="#84190f"/><stop offset="0.01979" stop-color="#84190f"/><stop offset="0.01979" stop-color="#7c1710"/><stop offset="0.02922" stop-color="#7c1710"/><stop offset="0.02922" stop-color="#7a1610"/><stop offset="0.19887" stop-color="#7a1610"/><stop offset="0.19887" stop-color="#6a120b"/><stop offset="0.37983" stop-color="#6a120b"/><stop offset="0.37983" stop-color="#74140e"/><stop offset="0.48351" stop-color="#74140e"/><stop offset="0.48351" stop-color="#84190f"/><stop offset="0.53318" stop-color="#84190f"/><stop offset="0.53318" stop-color="#80180f"/><stop offset="0.63666" stop-color="#80180f"/><stop offset="0.63666" stop-color="#70130d"/><stop offset="0.73186" stop-color="#70130d"/><stop offset="0.73186" stop-color="#982014"/><stop offset="0.91813" stop-color="#982014"/><stop offset="0.91813" stop-color="#942014"/><stop offset="1.00000" stop-color="#942014"/></linearGradient><linearGradient id="hr9" gradientUnits="userSpaceOnUse" x1="127.0" y1="0" x2="1188.0" y2="0"><stop offset="0.00000" stop-color="#4a0805"/><stop offset="0.48351" stop-color="#4a0805"/><stop offset="0.48351" stop-color="#4a0805"/><stop offset="0.73186" stop-color="#4a0805"/><stop offset="0.73186" stop-color="#3e0604"/><stop offset="1.00000" stop-color="#3e0604"/></linearGradient></defs>
<rect x="127.0" y="30.0" width="1061.0" height="40.20" fill="url(#gy)"/>
<rect x="127.0" y="68.2" width="1061.0" height="41.7" fill="url(#hr1)"/>
<rect x="127.0" y="107.9" width="1061.0" height="41.7" fill="url(#hr2)"/>
<rect x="127.0" y="147.6" width="1061.0" height="41.6" fill="url(#hr3)"/>
<rect x="127.0" y="187.2" width="1061.0" height="41.7" fill="url(#hr4)"/>
<rect x="127.0" y="226.9" width="1061.0" height="41.7" fill="url(#hr5)"/>
<rect x="127.0" y="266.6" width="1061.0" height="41.7" fill="url(#hr6)"/>
<rect x="127.0" y="306.3" width="1061.0" height="41.7" fill="url(#hr7)"/>
<rect x="127.0" y="346.0" width="1061.0" height="41.6" fill="url(#hr8)"/>
<rect x="127.0" y="385.6" width="1061.0" height="14.1" fill="url(#hr9)"/>
</g></g>
<polyline class="ln" stroke="#4a80b6" stroke-width="3.0" clip-path="url(#cpt)" points="137.1,187.3 150.4,187.3 155.5,169.4 195.3,169.4 199.3,198.9 202.4,195.9 212.6,176.1 216.7,177.5 220.7,177.5 223.8,184.7 227.9,186.3 234.0,196.9 241.1,202.0 246.2,206.1 250.3,215.3 255.4,216.3 257.4,218.3 260.5,210.2 263.6,210.2 268.7,209.1 272.7,221.4 278.9,231.6 284.0,231.2 289.1,235.6 294.2,235.6 300.3,238.1 304.3,227.5 311.5,224.4 319.6,217.9 325.8,222.8 330.9,222.4 333.9,214.8 338.0,215.7 343.1,215.7 348.2,212.2 351.2,211.8 355.3,203.4 390.0,203.4 394.1,203.4 402.2,188.7 409.4,191.8 413.5,182.2 420.6,184.3 431.8,197.9 438.9,189.8 451.2,194.9 457.3,193.2 464.4,193.8 471.6,198.5 474.6,197.3 479.7,205.5 482.8,203.4 485.8,206.7 490.9,198.9 496.0,197.9 501.1,207.1 504.2,208.1 510.3,220.4 515.4,226.5 520.5,218.9 525.6,217.3 530.7,235.6 534.8,241.4 540.9,233.2 544.6,242.8 550.1,234.0 559.2,228.5 564.3,236.7 571.5,233.6 573.5,235.6 578.6,261.1 581.7,266.6 585.8,261.1 598.0,252.0 609.2,259.1 617.4,246.9 623.5,252.0 632.7,247.5 638.8,254.0 644.9,239.7 650.0,236.7 650.0,237.7 654.1,230.5 661.2,225.0 665.3,225.9 672.4,231.2 678.5,225.4 686.7,223.8 690.8,225.9 694.9,231.6 697.9,230.5 701.0,217.3 705.1,220.4 708.1,221.0 712.2,232.6 718.3,231.2 723.4,237.7 726.5,236.7 733.6,241.8 737.3,237.7 741.4,250.9 746.9,241.8 752.0,237.7 759.1,245.8 763.8,228.5 767.3,227.1 770.3,221.4 776.4,216.3 780.5,215.3 787.6,192.8 792.7,204.6 795.8,204.0 800.5,193.8 806.0,161.8 811.1,174.5 817.2,163.3 821.3,167.3 828.4,182.6 832.5,177.5 835.6,178.5 838.6,175.5 843.7,180.6 847.8,173.5 850.9,174.5 853.9,181.6 857.6,173.5 862.1,180.6 868.2,179.6 873.3,197.9 875.9,198.9 882.5,224.4 886.5,220.4 890.6,233.6 894.7,234.6 897.8,237.7 901.2,233.6 902.3,234.1 905.7,264.9 909.1,269.4 912.5,261.4 915.9,234.1 919.3,225.1 922.7,221.6 927.3,209.1 930.7,208.7 934.1,213.2 940.9,212.5 945.5,204.6 948.9,201.9 952.3,204.6 956.4,216.0 959.6,216.0 963.2,230.7 966.6,235.3 970.5,230.7 973.9,229.6 977.3,220.5 981.9,221.0 985.3,217.8 988.7,228.5 995.5,234.1 1000.1,224.6 1003.5,228.5 1006.9,227.3 1010.3,218.2 1013.7,214.8 1018.3,221.6 1028.5,226.2 1035.3,208.7 1039.2,206.9 1045.6,213.7 1050.1,214.8 1055.8,218.2 1061.5,215.5 1068.3,217.8 1075.1,206.4 1079.7,205.0 1084.2,201.2 1091.0,206.9 1094.5,216.0 1100.1,201.2 1103.5,198.9 1105.8,200.5 1109.2,189.1 1116.1,192.1 1127.4,181.8 1134.3,184.6 1145.6,194.3 1151.3,198.9 1155.9,196.6 1160.4,195.5 1170.6,185.9 1180.9,186.4"/>
<line x1="1182.0" y1="36" x2="1182.0" y2="391.6" stroke="#1a1a1a" stroke-width="1.4"/>
<line x1="1179.8" y1="47.4" x2="1190.3" y2="47.4" stroke="#1a1a1a" stroke-width="1.4"/>
<text class="t" x="1197.2" y="52.2" textLength="48.3" lengthAdjust="spacingAndGlyphs">80.00 k</text>
<line x1="1182.0" y1="63.3" x2="1187.3" y2="63.3" stroke="#1a1a1a" stroke-width="1.3"/>
<line x1="1182.0" y1="79.1" x2="1187.3" y2="79.1" stroke="#1a1a1a" stroke-width="1.3"/>
<line x1="1182.0" y1="95.0" x2="1187.3" y2="95.0" stroke="#1a1a1a" stroke-width="1.3"/>
<line x1="1182.0" y1="110.8" x2="1187.3" y2="110.8" stroke="#1a1a1a" stroke-width="1.3"/>
<line x1="1179.8" y1="126.7" x2="1190.3" y2="126.7" stroke="#1a1a1a" stroke-width="1.4"/>
<text class="t" x="1197.2" y="131.5" textLength="48.3" lengthAdjust="spacingAndGlyphs">79.00 k</text>
<line x1="1182.0" y1="142.6" x2="1187.3" y2="142.6" stroke="#1a1a1a" stroke-width="1.3"/>
<line x1="1182.0" y1="158.4" x2="1187.3" y2="158.4" stroke="#1a1a1a" stroke-width="1.3"/>
<line x1="1182.0" y1="174.3" x2="1187.3" y2="174.3" stroke="#1a1a1a" stroke-width="1.3"/>
<line x1="1182.0" y1="190.1" x2="1187.3" y2="190.1" stroke="#1a1a1a" stroke-width="1.3"/>
<line x1="1179.8" y1="206.0" x2="1190.3" y2="206.0" stroke="#1a1a1a" stroke-width="1.4"/>
<text class="t" x="1197.2" y="210.8" textLength="48.3" lengthAdjust="spacingAndGlyphs">78.00 k</text>
<line x1="1182.0" y1="221.9" x2="1187.3" y2="221.9" stroke="#1a1a1a" stroke-width="1.3"/>
<line x1="1182.0" y1="237.7" x2="1187.3" y2="237.7" stroke="#1a1a1a" stroke-width="1.3"/>
<line x1="1182.0" y1="253.6" x2="1187.3" y2="253.6" stroke="#1a1a1a" stroke-width="1.3"/>
<line x1="1182.0" y1="269.4" x2="1187.3" y2="269.4" stroke="#1a1a1a" stroke-width="1.3"/>
<line x1="1179.8" y1="285.3" x2="1190.3" y2="285.3" stroke="#1a1a1a" stroke-width="1.4"/>
<text class="t" x="1197.2" y="290.1" textLength="48.3" lengthAdjust="spacingAndGlyphs">77.00 k</text>
<line x1="1182.0" y1="301.2" x2="1187.3" y2="301.2" stroke="#1a1a1a" stroke-width="1.3"/>
<line x1="1182.0" y1="317.0" x2="1187.3" y2="317.0" stroke="#1a1a1a" stroke-width="1.3"/>
<line x1="1182.0" y1="332.9" x2="1187.3" y2="332.9" stroke="#1a1a1a" stroke-width="1.3"/>
<line x1="1182.0" y1="348.7" x2="1187.3" y2="348.7" stroke="#1a1a1a" stroke-width="1.3"/>
<line x1="1179.8" y1="364.6" x2="1190.3" y2="364.6" stroke="#1a1a1a" stroke-width="1.4"/>
<text class="t" x="1197.2" y="369.4" textLength="48.3" lengthAdjust="spacingAndGlyphs">76.00 k</text>
<line x1="1182.0" y1="380.5" x2="1187.3" y2="380.5" stroke="#1a1a1a" stroke-width="1.3"/>
<text class="al" transform="translate(1257.5,166) rotate(90)" textLength="101.6" lengthAdjust="spacingAndGlyphs">Price [USDT]</text>
<rect x="133.4" y="419.7" width="1048.3" height="254.3" fill="none" stroke="#e8e8e8" stroke-width="1"/>
<line x1="137.3" y1="419.7" x2="137.3" y2="674.0" stroke="#e8e8e8" stroke-width="1.1"/>
<line x1="312.1" y1="419.7" x2="312.1" y2="674.0" stroke="#e8e8e8" stroke-width="1.1"/>
<line x1="486.9" y1="419.7" x2="486.9" y2="674.0" stroke="#e8e8e8" stroke-width="1.1"/>
<line x1="661.7" y1="419.7" x2="661.7" y2="674.0" stroke="#e8e8e8" stroke-width="1.1"/>
<line x1="836.5" y1="419.7" x2="836.5" y2="674.0" stroke="#e8e8e8" stroke-width="1.1"/>
<line x1="1011.3" y1="419.7" x2="1011.3" y2="674.0" stroke="#e8e8e8" stroke-width="1.1"/>
<line x1="133.4" y1="419.7" x2="1181.7" y2="419.7" stroke="#e8e8e8" stroke-width="1.1"/>
<line x1="133.4" y1="470.6" x2="1181.7" y2="470.6" stroke="#e8e8e8" stroke-width="1.1"/>
<line x1="133.4" y1="521.4" x2="1181.7" y2="521.4" stroke="#e8e8e8" stroke-width="1.1"/>
<line x1="133.4" y1="572.3" x2="1181.7" y2="572.3" stroke="#e8e8e8" stroke-width="1.1"/>
<line x1="133.4" y1="623.1" x2="1181.7" y2="623.1" stroke="#e8e8e8" stroke-width="1.1"/>
<line x1="133.4" y1="674.0" x2="1181.7" y2="674.0" stroke="#e8e8e8" stroke-width="1.1"/>
<g id="wm">
<path d="M165.4 590.3 H180.8 Q182.3 590.3 182.3 591.8 V613.2 L209.8 661.6 Q211.3 665 209 667.8 L206.2 671 Q205.2 672 203.7 672 H142.8 Q141.3 672 140.3 671 L137.8 667.8 Q135.8 665 137.4 661.5 L163.9 613.2 V591.8 Q163.9 590.3 165.4 590.3 Z" fill="#fdfdfd" stroke="#dedfe0" stroke-width="1.3" stroke-linejoin="round"/>
<path d="M156 641.5 Q159.5 637 163.5 640 Q167 643.5 171 641 Q175 638.5 179 640.5 Q183 642.5 187 640.5 Q191 639 195.3 641.5 L206.8 662 Q208 665.3 206 667.6 L204.4 669.4 H142.9 L141.2 667.6 Q139.2 665.3 140.6 662 Z" fill="#e8edef"/>
<g stroke="#f3f5f6" stroke-width="1.3"><line x1="166.5" y1="633.8" x2="179.5" y2="633.8" stroke="#ececec"/><line x1="168.5" y1="638.9" x2="177.5" y2="638.9"/><line x1="166.5" y1="643.5" x2="179.5" y2="643.5"/><line x1="168.5" y1="648.3" x2="177.5" y2="648.3"/><line x1="166.5" y1="653.2" x2="179.5" y2="653.2"/><line x1="168.5" y1="658" x2="177.5" y2="658"/><line x1="166.5" y1="662.8" x2="179.5" y2="662.8"/></g>
<text x="223.3" y="625.3" font-size="41" font-weight="bold" fill="#dbdddf" stroke="#dbdddf" stroke-width="1.5" stroke-linejoin="round" textLength="137.5" lengthAdjust="spacingAndGlyphs">MATERIAL</text>
<text x="223.3" y="668.3" font-size="42" font-weight="bold" fill="#dbdddf" stroke="#dbdddf" stroke-width="1.5" stroke-linejoin="round" textLength="163" lengthAdjust="spacingAndGlyphs">INDICATORS</text>
</g>
<g clip-path="url(#cpb)">
<polyline class="ln" stroke="#4178b2" points="137.3,455.2 150.8,455.2 155.4,443.2 195.5,443.2 198.6,445.3 201.7,430.3 210.0,430.3 212.1,427.0 217.3,424.1 221.5,421.4 226.7,420.7 231.8,421.4 235.0,424.5 239.1,424.9 243.3,431.7 246.4,432.8 251.6,441.1 256.8,445.3 263.0,443.2 268.2,443.6 273.4,446.3 278.6,447.3 281.3,454.6 289.0,455.6 294.2,462.9 299.4,467.1 304.6,468.1 310.8,462.9 317.1,461.9 322.3,457.1 326.4,457.3 329.5,458.8 334.7,458.8 339.9,459.4 346.2,457.7 350.3,456.7 354.5,449.4 356.6,448.8 395.0,448.8 399.2,447.3 404.4,440.1 407.5,442.1 413.7,439.0 421.0,440.1 432.4,443.6 438.6,445.7 445.9,445.3 457.4,447.3 468.8,449.8 475.0,451.1 480.2,456.1 486.5,458.8 492.7,456.7 496.8,457.3 501.0,459.8 506.2,462.3 509.7,467.1 512.4,476.4 515.6,499.3 519.7,515.9 523.9,532.6 527.0,546.7 530.1,553.2 534.3,560.5 538.4,553.2 541.5,549.1 548.8,542.9 553.0,541.9 559.2,537.8 564.4,536.7 573.8,532.6 576.3,545.0 580.0,556.4 583.1,551.2 590.4,542.9 599.7,539.2 604.9,539.8 612.2,537.8 619.5,532.6 629.9,530.1 636.1,524.2 639.2,524.9 644.4,522.2 653.8,519.0 656.9,503.5 660.0,501.4 663.1,503.5 668.3,510.7 674.5,512.8 679.7,509.7 684.9,510.1 690.1,507.6 694.3,519.7 700.5,520.1 712.0,523.2 718.2,520.5 722.4,521.7 726.5,513.4 729.6,514.9 733.8,514.9 741.1,525.9 747.3,527.4 751.5,526.9 756.7,531.5 761.8,530.5 768.1,523.8 773.3,520.1 780.6,523.2 784.7,518.4 788.9,504.5 792.0,500.3 797.2,497.2 806.5,485.8 809.7,490.6 813.8,490.6 821.1,496.2 828.4,508.0 834.6,511.8 838.8,512.8 842.9,515.9 847.1,514.9 853.3,522.2 857.5,523.8 861.2,527.4 864.7,537.8 867.9,539.8 872.0,554.9 876.2,554.9 882.4,561.1 886.6,560.5 890.7,567.4 895.9,566.3 901.1,566.7 905.3,574.0 908.8,599.0 912.5,588.6 916.7,577.1 921.9,569.9 925.0,565.7 927.5,563.6 930.2,568.8 937.5,567.8 944.7,567.4 952.0,563.2 956.2,565.7 959.3,565.3 963.5,569.4 969.7,572.4 977.0,578.6 981.1,582.8 988.4,586.1 992.6,590.6 999.4,591.7 1002.9,604.2 1005.0,630.1 1008.1,653.0 1014.4,656.1 1022.7,662.4 1031.0,664.4 1036.2,663.0 1043.5,666.5 1053.9,668.6 1070.5,668.2 1076.7,665.9 1083.0,668.0 1091.3,669.6 1097.5,671.7 1107.9,668.6 1124.5,669.2 1132.9,671.7 1151.6,672.8 1164.0,668.6 1174.4,667.1 1181.7,669.6"/>
<polyline class="ln" stroke="#e68a34" points="137.3,432.8 150.8,432.8 156.0,426.5 196.5,426.5 199.6,428.2 202.7,426.5 210.0,421.4 215.2,419.9 221.5,419.9 225.6,422.8 231.8,424.9 236.0,428.2 240.2,428.6 246.4,439.0 250.6,445.3 254.7,448.4 258.9,449.0 263.0,446.3 268.2,445.7 273.4,449.4 278.6,451.9 283.8,456.7 288.0,460.2 292.1,470.2 296.3,475.0 302.5,475.4 308.8,477.1 314.0,478.1 317.1,475.4 321.2,475.4 325.4,482.7 329.5,482.7 332.7,480.6 339.9,482.3 346.2,481.0 351.4,479.6 355.5,476.0 395.0,476.0 402.3,473.3 409.5,479.6 414.7,478.1 422.0,480.6 432.4,486.8 438.6,486.4 444.9,489.9 453.2,497.2 461.5,501.0 468.8,502.4 475.0,501.4 480.2,506.6 487.5,512.8 492.7,512.2 501.0,517.6 504.1,517.6 511.4,521.1 515.6,520.1 518.7,513.8 525.9,510.7 532.2,520.1 536.3,524.2 541.5,520.5 544.7,521.1 553.0,513.8 559.2,511.1 562.3,515.9 572.7,516.6 577.9,532.6 581.0,533.6 587.3,528.4 594.5,526.3 602.9,528.0 614.3,524.2 620.5,522.2 626.8,522.6 632.0,518.4 639.2,522.2 644.4,518.0 656.9,511.8 660.0,512.8 668.3,517.6 679.7,518.4 687.0,522.2 694.3,540.5 701.6,538.8 710.9,545.0 722.4,547.0 730.7,549.5 736.9,550.1 742.1,555.7 751.5,555.3 757.7,562.6 761.8,558.4 768.1,561.1 777.4,565.3 781.6,564.7 784.7,561.5 788.5,553.2 793.0,557.8 798.2,556.4 803.4,548.0 806.5,545.0 808.6,553.2 810.7,562.0 815.9,564.0 821.1,565.7 825.2,573.0 829.4,574.0 838.8,573.6 842.9,576.1 847.1,574.4 854.3,580.3 857.5,580.7 863.7,586.5 867.9,586.9 872.0,591.7 876.2,592.7 880.3,601.5 885.5,609.4 888.6,611.4 891.8,615.6 901.1,620.8 905.3,641.6 908.4,647.8 911.5,649.3 916.7,640.5 925.0,633.3 933.3,636.8 939.5,638.0 944.7,637.4 949.9,636.0 956.2,643.0 959.3,644.3 964.5,650.9 969.7,652.0 973.8,653.0 978.0,650.9 985.3,655.1 991.9,660.3 998.8,656.1 1007.1,663.4 1010.2,661.7 1016.5,664.4 1024.8,667.6 1031.0,668.0 1036.2,665.5 1043.5,667.6 1053.9,669.2 1066.3,668.0 1070.5,668.6 1075.7,665.5 1079.9,667.6 1084.0,665.5 1089.2,666.5 1094.4,672.8 1101.7,670.7 1107.9,662.4 1112.1,663.4 1119.3,664.4 1126.6,663.0 1132.9,664.4 1141.2,668.6 1150.5,672.3 1164.0,672.8 1174.4,671.7 1181.7,672.3"/>
<polyline class="ln" stroke="#549c3c" points="137.3,668.6 150.8,669.0 154.9,630.1 194.4,630.1 198.6,632.2 202.7,627.6 209.0,623.5 213.1,618.3 216.3,619.1 220.4,617.0 225.6,616.2 230.8,616.0 233.9,620.2 238.1,619.3 242.2,623.5 245.4,624.9 249.5,633.3 256.8,634.9 260.9,630.1 267.2,628.7 273.4,634.3 280.7,639.1 285.9,638.5 294.2,645.7 300.4,648.4 304.6,647.2 311.9,637.4 316.0,636.0 322.3,627.0 325.4,632.2 329.5,641.6 333.7,641.0 338.9,644.7 346.2,640.5 351.4,638.0 355.5,632.8 395.0,632.8 399.2,632.8 403.3,631.2 409.5,635.3 413.7,631.2 418.9,632.2 431.4,646.8 438.6,648.4 449.0,650.5 454.2,653.4 460.5,652.0 468.8,658.2 475.0,661.7 479.2,670.7 484.4,672.8 490.6,669.6 495.8,668.6 501.0,672.3 505.2,671.7 511.4,673.4 515.6,661.3 519.7,636.4 525.9,617.7 530.1,619.3 536.3,612.5 541.5,594.8 550.9,573.0 559.2,558.4 563.4,556.4 571.7,547.4 573.8,537.8 577.5,567.8 586.2,537.8 594.5,528.4 609.1,520.1 619.5,508.7 626.8,504.5 636.1,495.1 639.2,495.1 644.4,488.9 651.7,484.7 660.0,478.1 663.1,478.9 668.3,484.3 674.5,484.3 679.7,481.6 684.9,482.7 690.1,482.3 694.3,495.6 700.5,492.6 706.8,492.6 712.0,494.5 718.2,491.0 723.4,492.6 726.5,489.9 730.7,489.9 736.9,487.9 741.1,492.0 745.2,487.9 749.4,485.8 752.5,481.6 756.0,487.9 759.8,486.8 763.9,481.6 770.2,471.9 774.3,470.8 778.5,468.5 781.6,469.2 788.9,451.5 795.1,450.5 799.3,447.3 803.4,429.7 806.5,420.7 809.7,423.4 814.9,422.8 821.1,428.2 826.3,434.4 829.4,435.3 834.6,432.8 839.8,431.1 842.9,432.4 847.1,430.3 854.3,437.4 857.5,436.5 864.7,442.8 868.9,442.1 873.1,451.9 876.2,453.2 880.3,466.5 883.4,469.8 887.0,467.1 890.7,473.9 895.9,471.2 898.0,471.2 901.5,467.7 908.4,493.1 912.5,491.0 916.7,469.2 925.0,460.2 927.5,458.1 930.2,463.5 934.4,464.0 944.7,458.1 947.9,452.5 952.0,451.5 956.2,454.6 959.3,453.6 963.5,458.8 969.7,457.3 973.8,460.8 977.0,460.2 985.3,466.0 988.4,467.1 992.6,471.9 995.7,471.2 999.4,469.2 1002.9,474.4 1007.1,489.9 1011.3,486.4 1014.4,485.8 1019.6,488.9 1023.7,489.3 1028.9,487.9 1032.0,486.4 1036.2,481.6 1039.3,480.6 1043.5,482.3 1049.7,480.6 1053.9,482.3 1060.1,481.6 1066.3,480.6 1070.5,480.6 1075.7,477.5 1079.9,481.0 1085.0,478.9 1089.2,479.6 1094.4,483.7 1097.5,481.6 1101.7,476.9 1105.4,476.4 1109.0,468.1 1112.1,467.1 1116.2,467.1 1119.3,465.0 1123.5,465.6 1127.0,462.9 1130.8,465.0 1134.9,464.4 1141.2,467.7 1150.5,470.2 1155.7,468.7 1159.9,468.7 1165.1,464.4 1174.4,460.2 1181.7,459.4"/>
<polyline class="ln" stroke="#bf3535" points="137.3,437.4 150.8,437.4 154.9,439.4 195.5,439.4 198.6,446.3 201.7,427.6 206.9,426.1 211.1,426.5 214.2,424.5 218.3,421.4 221.5,420.3 227.7,420.3 231.8,421.4 235.0,426.1 239.1,424.9 242.2,430.3 246.4,430.3 252.6,436.5 257.8,440.1 263.0,439.4 268.2,440.1 273.4,442.8 278.6,443.2 280.7,452.5 284.9,456.7 289.0,457.3 294.2,464.0 299.4,467.1 304.6,468.5 310.8,465.0 318.1,465.0 322.3,461.9 332.7,460.8 339.9,460.8 346.2,459.8 351.4,459.4 354.5,451.5 356.6,450.0 395.0,450.0 399.2,448.4 404.4,441.1 407.5,442.8 413.7,438.6 421.0,439.6 432.4,443.2 438.6,442.1 445.9,441.1 457.4,443.6 468.8,444.8 475.0,444.6 480.2,446.9 486.5,449.0 492.7,448.4 498.9,449.4 505.2,451.5 508.9,455.6 511.4,464.0 513.5,480.6 515.6,505.5 518.7,530.5 522.2,549.1 525.9,579.2 529.1,582.3 533.8,591.3 540.5,583.4 550.9,582.8 559.2,580.3 566.5,581.3 572.7,579.2 576.9,593.8 580.6,596.9 587.3,585.5 593.5,581.3 600.8,579.6 613.2,580.7 619.5,576.1 629.9,575.1 636.1,572.4 639.2,573.6 653.8,571.9 656.9,561.5 660.0,558.4 663.1,559.9 668.3,564.0 674.5,565.7 680.8,564.7 686.0,562.0 690.1,562.0 694.3,571.5 701.6,573.6 710.9,574.4 716.1,573.0 722.4,574.0 726.5,573.4 733.8,576.1 741.1,584.8 750.4,585.5 756.7,588.2 761.8,587.5 768.1,580.3 771.2,579.2 776.4,581.3 781.6,584.4 784.7,582.8 788.9,575.1 795.1,570.3 806.5,558.4 810.7,563.2 814.9,563.2 821.1,565.3 828.4,576.1 832.5,580.3 838.8,582.8 842.9,584.4 847.1,583.4 851.2,588.6 856.4,590.6 860.6,592.7 864.7,596.5 867.9,596.9 872.0,606.2 876.2,605.8 883.4,608.9 887.6,608.3 890.7,613.9 901.1,613.9 905.3,620.8 908.8,636.0 912.5,631.2 916.7,626.0 919.8,624.9 925.0,616.6 930.2,618.7 937.5,617.7 944.7,618.1 952.0,614.6 959.3,616.2 966.6,619.7 969.7,619.7 977.0,624.3 985.3,627.0 992.6,631.2 999.4,633.9 1002.9,641.6 1006.5,657.2 1014.4,660.3 1022.7,665.1 1031.0,665.9 1036.2,664.4 1043.5,668.0 1053.9,669.6 1070.5,670.7 1076.7,669.2 1083.0,671.3 1091.3,671.7 1097.5,672.8 1107.9,671.7 1124.5,671.7 1132.9,672.8 1164.0,672.8 1174.4,671.3 1181.7,671.7"/>
<polyline class="ln" stroke="#8f6cbd" points="137.3,462.9 150.8,462.9 155.4,444.8 209.0,444.8 213.1,440.1 217.3,438.0 220.4,438.0 224.6,435.3 228.7,433.8 232.9,434.4 236.0,436.5 239.1,436.9 242.2,445.3 246.4,446.9 249.5,448.4 253.7,453.6 256.8,453.6 260.9,451.1 273.4,451.1 278.6,452.5 281.7,442.1 289.0,440.1 293.2,440.7 296.3,449.8 300.4,447.3 304.6,450.5 307.7,450.9 312.9,446.3 319.1,444.8 326.4,441.7 330.6,441.1 337.9,441.7 347.2,441.5 354.5,438.6 395.0,438.6 399.2,438.0 405.4,434.4 409.5,433.2 415.8,434.4 421.0,432.8 428.3,432.2 433.5,432.4 438.6,436.9 445.9,437.6 451.1,435.9 456.3,434.9 461.5,437.4 468.8,436.9 475.0,437.4 480.2,442.1 484.4,444.2 490.6,444.6 495.8,443.6 501.0,445.3 507.2,447.3 513.5,449.8 517.6,458.8 520.8,461.5 525.9,461.9 530.1,459.4 533.2,470.2 537.4,473.9 541.5,465.6 544.7,466.0 548.8,460.8 551.9,461.9 556.1,460.4 560.2,461.9 567.5,457.3 571.7,456.3 574.8,457.3 577.9,460.8 581.0,474.4 584.1,473.3 588.3,479.6 592.5,480.6 599.7,479.6 604.9,481.0 612.2,480.6 617.4,476.4 622.6,478.1 629.9,475.4 636.1,470.2 639.2,470.2 642.3,467.1 645.5,467.7 649.6,465.0 653.8,464.0 656.9,448.4 660.0,445.3 663.1,448.4 668.3,456.1 674.5,456.7 679.7,454.6 686.0,454.6 690.1,451.9 694.3,458.1 700.5,456.7 709.9,459.4 716.1,459.8 722.4,459.8 726.5,439.0 729.6,439.4 733.8,438.4 741.1,447.8 749.4,454.0 757.7,456.3 769.1,458.8 773.3,451.5 777.4,453.6 780.6,451.5 784.7,445.3 790.9,422.4 794.1,419.9 799.3,420.3 803.4,427.6 806.5,429.7 810.7,427.0 815.9,431.7 826.3,442.1 831.5,441.1 838.8,443.2 842.9,449.0 849.1,450.5 854.3,452.5 857.5,451.5 860.6,456.7 865.8,481.6 868.9,486.8 872.0,500.3 878.2,497.2 882.4,502.4 886.6,500.3 890.7,504.5 897.0,502.8 905.3,506.6 908.8,533.0 912.5,521.1 916.7,505.5 919.8,500.3 922.9,501.4 925.0,498.3 929.2,503.0 933.3,502.4 938.5,503.9 944.7,501.8 948.9,503.5 953.1,501.8 956.2,502.4 959.9,501.4 966.6,505.5 977.0,515.5 981.1,522.6 988.4,526.3 992.6,530.5 999.4,530.5 1002.9,546.7 1005.0,588.6 1007.1,634.3 1010.2,641.6 1015.4,644.7 1021.7,649.9 1026.8,650.9 1033.1,653.4 1041.4,657.2 1049.7,659.2 1054.9,660.9 1063.2,660.3 1070.5,662.4 1076.7,661.7 1080.9,665.5 1085.0,663.4 1094.4,663.0 1099.6,666.5 1102.7,665.9 1104.8,669.6 1109.0,667.1 1124.5,668.0 1129.7,671.3 1141.2,672.3 1151.6,672.8 1157.8,669.6 1164.0,666.5 1174.4,665.5 1177.5,668.6 1181.7,667.6"/>
<polyline class="ln" stroke="#875e54" stroke-width="2.0" points="134.0,673.3 194.6,673.3 198.4,556.5 512.3,556.5 514.6,419.9 1181.7,419.9"/>
</g>
<line x1="133.4" y1="419.09999999999997" x2="133.4" y2="674.7" stroke="#1a1a1a" stroke-width="1.5"/>
<line x1="132.70000000000002" y1="674.0" x2="1181.7" y2="674.0" stroke="#1a1a1a" stroke-width="1.5"/>
<line x1="124.4" y1="419.7" x2="135.4" y2="419.7" stroke="#1a1a1a" stroke-width="1.5"/>
<text class="t" x="113.4" y="423.6" text-anchor="end">1.000</text>
<line x1="128.1" y1="429.9" x2="133.4" y2="429.9" stroke="#1a1a1a" stroke-width="1.3"/>
<line x1="128.1" y1="440.0" x2="133.4" y2="440.0" stroke="#1a1a1a" stroke-width="1.3"/>
<line x1="128.1" y1="450.2" x2="133.4" y2="450.2" stroke="#1a1a1a" stroke-width="1.3"/>
<line x1="128.1" y1="460.4" x2="133.4" y2="460.4" stroke="#1a1a1a" stroke-width="1.3"/>
<line x1="124.4" y1="470.6" x2="135.4" y2="470.6" stroke="#1a1a1a" stroke-width="1.5"/>
<text class="t" x="117.4" y="474.5" text-anchor="end">800.00 m</text>
<line x1="128.1" y1="480.7" x2="133.4" y2="480.7" stroke="#1a1a1a" stroke-width="1.3"/>
<line x1="128.1" y1="490.9" x2="133.4" y2="490.9" stroke="#1a1a1a" stroke-width="1.3"/>
<line x1="128.1" y1="501.1" x2="133.4" y2="501.1" stroke="#1a1a1a" stroke-width="1.3"/>
<line x1="128.1" y1="511.2" x2="133.4" y2="511.2" stroke="#1a1a1a" stroke-width="1.3"/>
<line x1="124.4" y1="521.4" x2="135.4" y2="521.4" stroke="#1a1a1a" stroke-width="1.5"/>
<text class="t" x="117.4" y="525.3" text-anchor="end">600.00 m</text>
<line x1="128.1" y1="531.6" x2="133.4" y2="531.6" stroke="#1a1a1a" stroke-width="1.3"/>
<line x1="128.1" y1="541.8" x2="133.4" y2="541.8" stroke="#1a1a1a" stroke-width="1.3"/>
<line x1="128.1" y1="551.9" x2="133.4" y2="551.9" stroke="#1a1a1a" stroke-width="1.3"/>
<line x1="128.1" y1="562.1" x2="133.4" y2="562.1" stroke="#1a1a1a" stroke-width="1.3"/>
<line x1="124.4" y1="572.3" x2="135.4" y2="572.3" stroke="#1a1a1a" stroke-width="1.5"/>
<text class="t" x="117.4" y="576.2" text-anchor="end">400.00 m</text>
<line x1="128.1" y1="582.5" x2="133.4" y2="582.5" stroke="#1a1a1a" stroke-width="1.3"/>
<line x1="128.1" y1="592.6" x2="133.4" y2="592.6" stroke="#1a1a1a" stroke-width="1.3"/>
<line x1="128.1" y1="602.8" x2="133.4" y2="602.8" stroke="#1a1a1a" stroke-width="1.3"/>
<line x1="128.1" y1="613.0" x2="133.4" y2="613.0" stroke="#1a1a1a" stroke-width="1.3"/>
<line x1="124.4" y1="623.1" x2="135.4" y2="623.1" stroke="#1a1a1a" stroke-width="1.5"/>
<text class="t" x="117.4" y="627.0" text-anchor="end">200.00 m</text>
<line x1="128.1" y1="633.3" x2="133.4" y2="633.3" stroke="#1a1a1a" stroke-width="1.3"/>
<line x1="128.1" y1="643.5" x2="133.4" y2="643.5" stroke="#1a1a1a" stroke-width="1.3"/>
<line x1="128.1" y1="653.7" x2="133.4" y2="653.7" stroke="#1a1a1a" stroke-width="1.3"/>
<line x1="128.1" y1="663.8" x2="133.4" y2="663.8" stroke="#1a1a1a" stroke-width="1.3"/>
<line x1="124.4" y1="674.0" x2="135.4" y2="674.0" stroke="#1a1a1a" stroke-width="1.5"/>
<text class="t" x="117.4" y="677.9" text-anchor="end">0</text>
<line x1="137.3" y1="672.0" x2="137.3" y2="682.5" stroke="#1a1a1a" stroke-width="1.5"/>
<text class="t" x="137.3" y="700.2" text-anchor="middle">4/23</text>
<line x1="312.1" y1="672.0" x2="312.1" y2="682.5" stroke="#1a1a1a" stroke-width="1.5"/>
<text class="t" x="312.1" y="700.2" text-anchor="middle">4h</text>
<line x1="486.9" y1="672.0" x2="486.9" y2="682.5" stroke="#1a1a1a" stroke-width="1.5"/>
<text class="t" x="486.9" y="700.2" text-anchor="middle">8h</text>
<line x1="661.7" y1="672.0" x2="661.7" y2="682.5" stroke="#1a1a1a" stroke-width="1.5"/>
<text class="t" x="661.7" y="700.2" text-anchor="middle">12h</text>
<line x1="836.5" y1="672.0" x2="836.5" y2="682.5" stroke="#1a1a1a" stroke-width="1.5"/>
<text class="t" x="836.5" y="700.2" text-anchor="middle">16h</text>
<line x1="1011.3" y1="672.0" x2="1011.3" y2="682.5" stroke="#1a1a1a" stroke-width="1.5"/>
<text class="t" x="1011.3" y="700.2" text-anchor="middle">20h</text>
<text class="al" x="614.9" y="727" textLength="88" lengthAdjust="spacingAndGlyphs">Date (UTC)</text>
<text class="al" transform="translate(38.8,644.5) rotate(-90)" textLength="194.5" lengthAdjust="spacingAndGlyphs">Normalized CVD [arb. u.]</text>
<rect x="23.4" y="764.2" width="795" height="60" rx="4" ry="4" fill="#fff" stroke="#eeeeee" stroke-width="1.2"/>
<line x1="37.1" y1="791.4" x2="64.1" y2="791.4" stroke="#4178b2" stroke-width="2.4"/>
<text class="t" x="72.0" y="795.8" textLength="59.3" lengthAdjust="spacingAndGlyphs">all orders</text>
<line x1="136.3" y1="791.4" x2="163.3" y2="791.4" stroke="#e68a34" stroke-width="2.4"/>
<text class="t" x="171.5" y="795.8" textLength="87.2" lengthAdjust="spacingAndGlyphs">$100 &lt; i &lt; $1k</text>
<line x1="263.6" y1="791.4" x2="290.6" y2="791.4" stroke="#549c3c" stroke-width="2.4"/>
<text class="t" x="298.0" y="795.8" textLength="87.4" lengthAdjust="spacingAndGlyphs">$1k &lt; i &lt; $10k</text>
<line x1="390.2" y1="791.4" x2="417.2" y2="791.4" stroke="#bf3535" stroke-width="2.4"/>
<text class="t" x="425.1" y="795.8" textLength="103.9" lengthAdjust="spacingAndGlyphs">$10k &lt; i &lt; $100k</text>
<line x1="534.0" y1="791.4" x2="561.0" y2="791.4" stroke="#8f6cbd" stroke-width="2.4"/>
<text class="t" x="568.7" y="795.8" textLength="100.6" lengthAdjust="spacingAndGlyphs">$100k &lt; i &lt; $1M</text>
<line x1="674.0" y1="791.4" x2="701.0" y2="791.4" stroke="#835a50" stroke-width="2.4"/>
<text class="t" x="708.3" y="795.8" textLength="96.7" lengthAdjust="spacingAndGlyphs">$1M &lt; i &lt; $10M</text>
</svg></body></html>
